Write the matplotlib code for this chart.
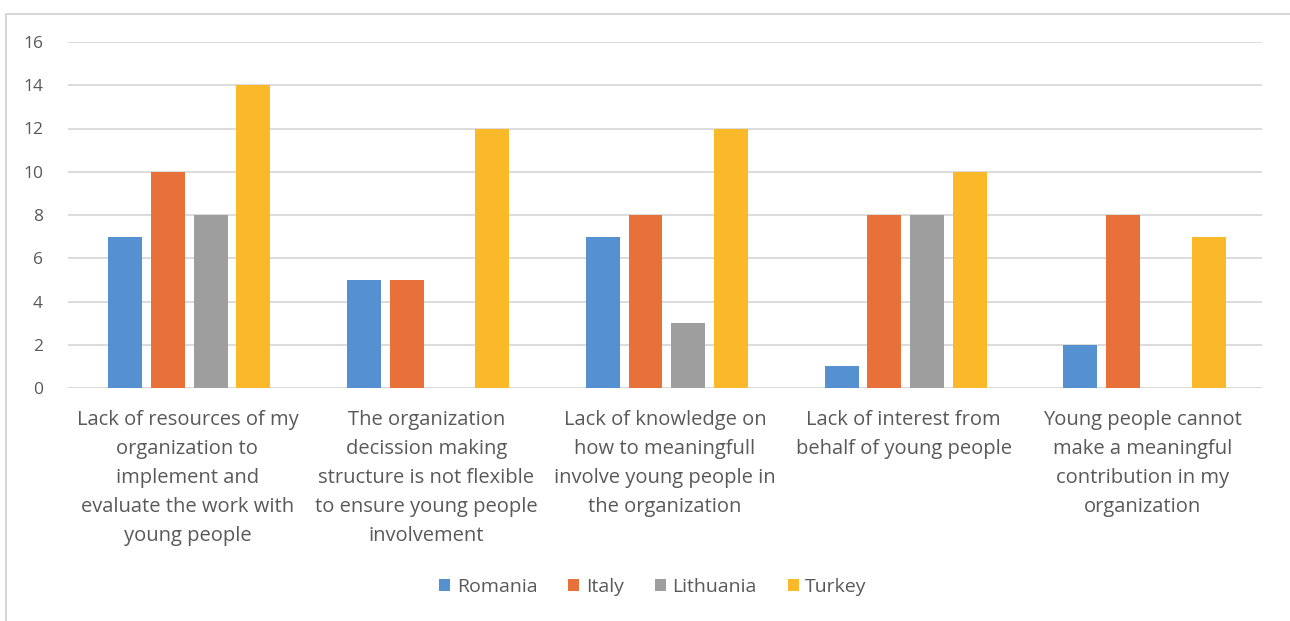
import numpy as np
import matplotlib.pyplot as plt
from matplotlib.patches import Rectangle

categories = [
    "Lack of resources of my\norganization to\nimplement and\nevaluate the work with\nyoung people",
    "The organization\ndecission making\nstructure is not flexible\nto ensure young people\ninvolvement",
    "Lack of knowledge on\nhow to meaningfull\ninvolve young people in\nthe organization",
    "Lack of interest from\nbehalf of young people",
    "Young people cannot\nmake a meaningful\ncontribution in my\norganization",
]
countries = ["Romania", "Italy", "Lithuania", "Turkey"]
romania = [7, 5, 7, 1, 2]
italy = [10, 5, 8, 8, 8]
lithuania = [8, 0, 3, 8, 0]
turkey = [14, 12, 12, 10, 7]
colors = ["#5591D0", "#E8713A", "#9E9E9E", "#FBB829"]

plt.rcParams['font.family'] = ['Open Sans', 'DejaVu Sans']
txt = "#595959"

fig = plt.figure(figsize=(12.9, 6.21), dpi=100)
ax = fig.add_axes([68/1290, 1-388/621, (1262-68)/1290, (388-42)/621])

# outer chart border
fig.patches.append(Rectangle((6/1290, -0.05), 1.2, 1-14/621+0.05, transform=fig.transFigure,
                             fill=False, edgecolor="#D0D0D0", linewidth=1.2))

x = np.arange(len(categories))
w = 0.142
step = 0.179
series = [romania, italy, lithuania, turkey]
for i, (name, vals) in enumerate(zip(countries, series)):
    ax.bar(x + (i - 1.5) * step + 0.008, vals, width=w, color=colors[i], label=name, zorder=3)

ax.set_xlim(-0.5, len(categories) - 0.5)
ax.set_ylim(0, 16)
ax.set_yticks(range(0, 17, 2))
ax.grid(axis='y', color="#D9D9D9", linewidth=1.3, zorder=0)
for s in ax.spines.values():
    s.set_visible(False)
ax.axhline(0, color="#D9D9D9", linewidth=1.3, zorder=2)
ax.tick_params(axis='both', length=0, colors=txt)
ax.tick_params(axis='y', labelsize=12.5, pad=18)
ax.set_xticks(x)
ax.set_xticklabels(categories, fontsize=14.5, color=txt, linespacing=1.6)
ax.tick_params(axis='x', pad=16)

leg = fig.legend(loc='center', bbox_to_anchor=(653/1290, 1-587/621), ncol=4, frameon=False,
                 fontsize=14, handlelength=0.55, handleheight=0.55, handletextpad=0.35,
                 columnspacing=1.6, labelcolor=txt)

fig.savefig("out.png", dpi=100)
